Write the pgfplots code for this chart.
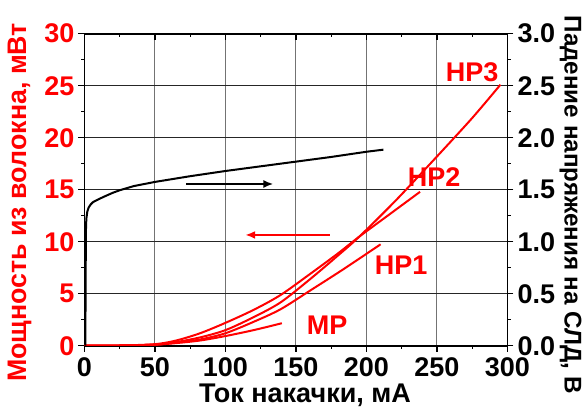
\documentclass[border=0pt]{standalone}
\usepackage{fontspec}
\setmainfont{Liberation Sans}
\usepackage{pgfplots}
\pgfplotsset{compat=1.18}
\usetikzlibrary{arrows.meta}

\newcommand{\bigb}{\fontsize{13.5}{15}\selectfont\bfseries}

\pgfplotsset{
  base/.style={
    width=211.5pt, height=156pt, scale only axis,
    xmin=0, xmax=300,
    xtick={0,50,...,300}, minor x tick num=1,
    major tick length=3pt, minor tick length=1.6pt,
    tick align=outside,
    tick style={black, line width=0.6pt},
    axis line style={line width=0.8pt},
    ticklabel style={font=\bigb},
    /pgf/number format/assume math mode=true,
  },
}

\begin{document}
\begin{tikzpicture}
% power, left axis
\begin{axis}[base,
  ymin=0, ymax=30, ytick={0,5,...,30}, minor y tick num=1,
  xtick pos=lower, ytick pos=left,
  yticklabel style={red}, yticklabel shift=-1.5pt,
  grid=major,
  x grid style={black!55, line width=0.5pt},
  y grid style={black!85, line width=0.5pt},
  xticklabel shift=-0.5pt,
]
\coordinate (O) at (rel axis cs:0,0);
\coordinate (L) at (rel axis cs:0,0.5);
\coordinate (R) at (rel axis cs:1,0.5);
\coordinate (B) at (rel axis cs:0.5,0);

% HP3
\addplot[red, line width=1pt, smooth] coordinates {
  (0,0) (25,0.02) (50,0.1) (65,0.35) (82,0.8) (100,1.5) (120,2.75)
  (139,4.16) (160,6.4) (180,8.7) (195,10.5) (221,14.0) (250,18.2)
  (275,21.9) (295,25.1)
};
% HP2
\addplot[red, line width=1pt, smooth] coordinates {
  (0,0) (25,0.02) (50,0.15) (65,0.5) (82,1.2) (100,2.2) (120,3.45)
  (139,4.87) (160,6.9) (180,8.9) (195,10.5) (215,12.5) (238,14.8)
};
% HP1
\addplot[red, line width=1pt, smooth] coordinates {
  (0,0) (25,0.02) (50,0.1) (65,0.3) (82,0.6) (100,1.2) (120,2.3)
  (139,3.5) (160,5.3) (183,7.3) (210,9.75)
};
% MP
\addplot[red, line width=1pt, smooth] coordinates {
  (0,0) (25,0.02) (50,0.1) (65,0.25) (82,0.5) (100,0.93) (120,1.5) (140,2.16)
};

\addplot[red, line width=1pt, -{Latex[length=5pt,width=4pt]}] coordinates {(174,10.65) (114,10.65)};

\node[red, font=\bigb] at (axis cs:275,26.3) {HP3};
\node[red, font=\bigb] at (axis cs:248,16.2) {HP2};
\node[red, font=\bigb] at (axis cs:224.5,7.7) {HP1};
\node[red, font=\bigb] at (axis cs:172,2.0) {MP};
\end{axis}

% voltage, right axis
\begin{axis}[base,
  ymin=0, ymax=3, ytick={0,0.5,...,3}, minor y tick num=1,
  axis y line*=right, axis x line=none,
  yticklabel shift=-1.5pt,
  yticklabel style={/pgf/number format/.cd, fixed, fixed zerofill, precision=1},
]
\addplot[black, line width=1pt] coordinates {
  (0.6,0) (0.8,0.6) (1.0,1.1) (1.3,1.22) (2,1.29) (3,1.33) (4.5,1.36)
  (6,1.38) (8,1.395) (11,1.415) (15,1.44) (20,1.47) (25,1.495) (35,1.535)
  (50,1.575) (75,1.63) (100,1.68) (125,1.725) (150,1.77) (175,1.815)
  (200,1.865) (212,1.885)
};
\addplot[black, line width=1pt, -{Latex[length=5pt,width=4pt]}] coordinates {(72,1.555) (134,1.555)};
\end{axis}

% top ticks, pointing inward
\begin{axis}[base,
  ymin=0, ymax=1, hide y axis,
  axis x line*=top, tick align=inside, xticklabels={},
]
\end{axis}

\node[rotate=90, red, font=\fontsize{13.4}{16}\selectfont\bfseries] at ([xshift=-32.5pt,yshift=-6.4pt]L) {Мощность из волокна, мВт};
\node[rotate=-90, font=\fontsize{12.1}{14}\selectfont\bfseries] at ([xshift=31.5pt,yshift=-7.5pt]R) {Падение напряжения на СЛД, В};
\node[font=\bigb] at ([xshift=4.5pt,yshift=-25pt]B) {Ток накачки, мА};

\pgfresetboundingbox
\path[use as bounding box] ([shift={(-42.25pt,-31.15pt)}]O) rectangle ([shift={(249.25pt,172.85pt)}]O);
\end{tikzpicture}
\end{document}
